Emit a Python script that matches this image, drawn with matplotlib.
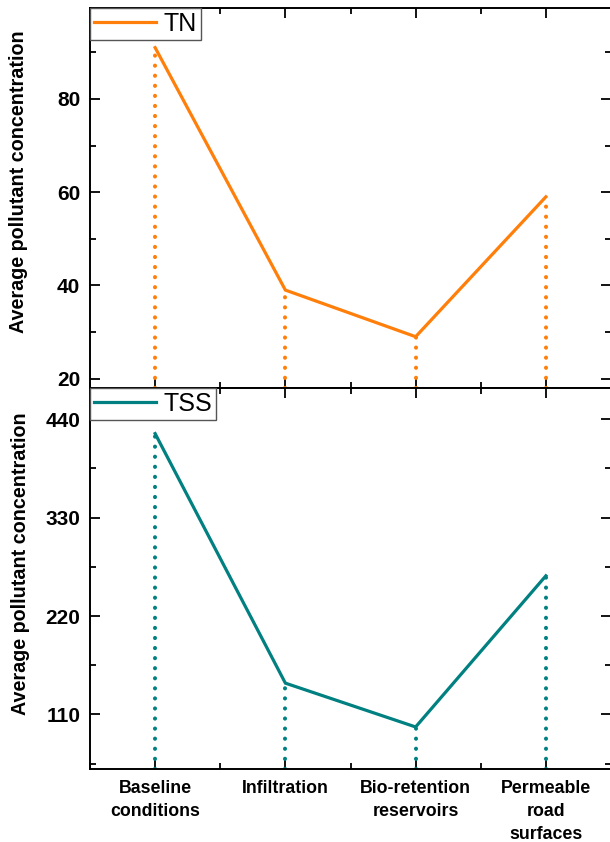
import matplotlib.pyplot as plt
from matplotlib.ticker import MultipleLocator

plt.rcParams['font.family'] = ['Liberation Sans', 'DejaVu Sans']

categories = ['Baseline\nconditions', 'Infiltration', 'Bio-retention\nreservoirs', 'Permeable\nroad\nsurfaces']
tn_values = [91, 39, 29, 59]
tss_values = [424, 145, 96, 265]

TN_COLOR = '#ff7f0a'
TSS_COLOR = '#008080'

W, H = 610, 842
fig = plt.figure(figsize=(W / 100, H / 100), dpi=100)
left, right = 90 / W, 611 / W
top_ax = fig.add_axes([left, 1 - 388 / H, right - left, (388 - 8) / H])
bot_ax = fig.add_axes([left, 1 - 769 / H, right - left, (769 - 388) / H])

x = list(range(1, len(categories) + 1))


def draw_panel(ax, values, color, label, ylim, major, minor, label_x, label_y):
    ax.plot(x, values, color=color, lw=2.3, label=label, solid_joinstyle='miter', zorder=3)
    ax.vlines(x, ylim[0], values, colors=color, linestyles=(0, (0.05, 2.45)), lw=2.9,
              capstyle='round', zorder=2)
    ax.set_xlim(0.5, 4.5)
    ax.set_ylim(*ylim)
    ax.yaxis.set_major_locator(MultipleLocator(major))
    ax.yaxis.set_minor_locator(MultipleLocator(minor))
    ax.xaxis.set_major_locator(MultipleLocator(1))
    ax.xaxis.set_minor_locator(MultipleLocator(0.5))
    ax.tick_params(which='both', direction='in', top=True, right=True, width=1.3)
    ax.tick_params(which='major', length=7)
    ax.tick_params(which='minor', length=4)
    ax.tick_params(axis='y', pad=7)
    for s in ax.spines.values():
        s.set_linewidth(1.4)
    for lab in ax.get_yticklabels():
        lab.set_fontweight('bold')
        lab.set_fontsize(15)
    ax.set_ylabel('Average pollutant concentration', fontsize=14.2, fontweight='bold')
    ax.yaxis.set_label_coords(label_x, label_y)
    leg = ax.legend(loc='upper left', fontsize=18, frameon=True, fancybox=False,
                    borderaxespad=0, handlelength=2.5, handletextpad=0.3,
                    borderpad=0.15, edgecolor='#555555', framealpha=1)
    leg.get_frame().set_linewidth(1.0)


draw_panel(top_ax, tn_values, TN_COLOR, 'TN', (18, 99.5), 20, 10, -0.119, 0.542)
draw_panel(bot_ax, tss_values, TSS_COLOR, 'TSS', (49, 475), 110, 55, -0.115, 0.538)

top_ax.tick_params(axis='x', labelbottom=False)
bot_ax.set_xticks(x)
bot_ax.set_xticklabels(categories, fontsize=12.8, fontweight='bold', va='top', linespacing=1.45)
bot_ax.tick_params(axis='x', which='major', pad=8)

fig.savefig('out.png', dpi=100)
